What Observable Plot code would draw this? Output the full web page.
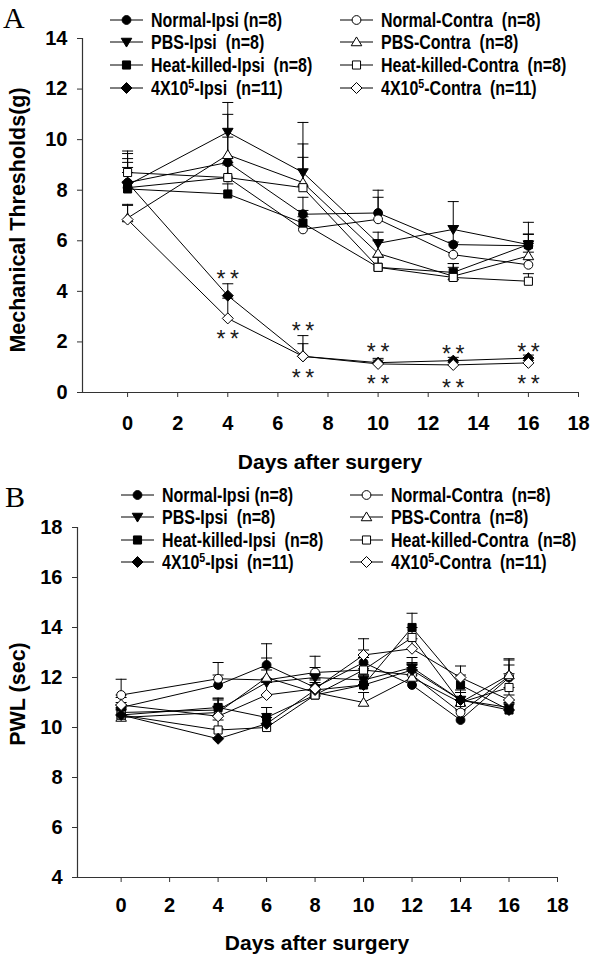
<!DOCTYPE html>
<html><head><meta charset="utf-8">
<script src="https://cdn.jsdelivr.net/npm/d3@7"></script>
<script src="https://cdn.jsdelivr.net/npm/@observablehq/plot@0.6"></script>
<style>
body{margin:0;background:#fff;}
#wrap{position:relative;width:600px;height:965px;overflow:hidden;font-family:"Liberation Sans",Arial,sans-serif;color:#000;}
.panel{position:absolute;left:0;}
.letter{position:absolute;font-family:"Liberation Serif","Times New Roman",serif;font-size:30px;line-height:30px;}
.ytitle{position:absolute;font-weight:bold;font-size:21.5px;white-space:nowrap;transform:translate(-50%,-50%) rotate(-90deg);}
.xtitle{position:absolute;font-weight:bold;font-size:21px;white-space:nowrap;transform:translate(-50%,-50%);}
.leg{position:absolute;display:flex;align-items:center;font-weight:bold;font-size:19.5px;white-space:pre;line-height:18px;transform:translateY(-50%);}
.leg svg{margin-right:8px;overflow:visible;flex:none;}
.leg span{display:inline-block;transform-origin:0 50%;}
.leg sup{font-size:13px;line-height:0;vertical-align:7px;}
</style></head>
<body><div id="wrap"></div>
<script>
// ---------- shared ----------
const seriesKeys = ["Normal-Ipsi","Normal-Contra","PBS-Ipsi","PBS-Contra","Heat-killed-Ipsi","Heat-killed-Contra","4X10^5-Ipsi","4X10^5-Contra"];
const seriesLegend = ["Normal-Ipsi (n=8)","Normal-Contra  (n=8)","PBS-Ipsi  (n=8)","PBS-Contra  (n=8)","Heat-killed-Ipsi  (n=8)","Heat-killed-Contra  (n=8)","4X10^5-Ipsi  (n=11)","4X10^5-Contra  (n=11)"];
const seriesShape = ["circle","circle","triDown","triUp","square","square","diamond","diamond"];
const seriesFill = ["black","white","black","white","black","white","black","white"];
const xTicks = [0,2,4,6,8,10,12,14,16,18];

// ---------- panel A : mechanical thresholds ----------
const daysA = [0,4,7,10,13,16];
const A_normalIpsi   = [8.3, 9.1, 7.05, 7.1, 5.85, 5.8];
const A_normalContra = [8.1, 8.5, 6.45, 6.85, 5.45, 5.05];
const A_pbsIpsi      = [8.2, 10.3, 8.7, 5.9, 6.45, 5.85];
const A_pbsContra    = [6.9, 9.4, 8.3, 5.5, 4.6, 5.4];
const A_heatIpsi     = [8.05, 7.85, 6.7, 4.95, 4.75, 5.85];
const A_heatContra   = [8.7, 8.5, 8.1, 4.95, 4.55, 4.4];
const A_cellIpsi     = [8.3, 3.83, 1.43, 1.18, 1.26, 1.36];
const A_cellContra   = [6.84, 2.93, 1.43, 1.13, 1.09, 1.17];
const A_errNormalIpsi   = [0.8, 1.0, 0.67, 0.9, 0.75, 0.93];
const A_errNormalContra = [0.8, 0.6, 0.5, 0.87, 0.5, 0.5];
const A_errPbsIpsi      = [1.35, 1.17, 1.98, 0.44, 1.1, 0.42];
const A_errPbsContra    = [0.5, 1.6, 1.53, 0.5, 0.5, 0.5];
const A_errHeatIpsi     = [1.2, 0.4, 0.5, 0.4, 0.35, 0.4];
const A_errHeatContra   = [0.75, 0.5, 1.2, 0.4, 0.4, 0.3];
const A_errCellIpsi     = [0.4, 0.47, 0.82, 0.17, 0.13, 0.12];
const A_errCellContra   = [0.6, 0.8, 0.5, 0.15, 0.1, 0.1];
const A_yTicks = [0,2,4,6,8,10,12,14];
const A_starDays = [4,7,10,13,16];
const A_starAbove = [4.7, 2.65, 1.82, 1.74, 1.82];
const A_starBelow = [2.33, 0.79, 0.55, 0.4, 0.55];

// ---------- panel B : PWL ----------
const daysB = [0,4,6,8,10,12,14,16];
const B_normalIpsi   = [10.8, 11.7, 12.5, 11.6, 12.6, 11.7, 10.3, 12.0];
const B_normalContra = [11.3, 11.95, 11.9, 12.2, 12.3, 12.1, 10.6, 12.05];
const B_pbsIpsi      = [10.6, 10.7, 11.8, 12.0, 11.9, 12.4, 11.1, 10.8];
const B_pbsContra    = [10.4, 10.6, 12.0, 11.4, 11.0, 12.0, 11.0, 12.1];
const B_heatIpsi     = [10.5, 10.8, 10.4, 11.3, 11.7, 14.0, 11.7, 10.7];
const B_heatContra   = [10.5, 9.9, 10.0, 11.3, 12.3, 13.6, 11.0, 11.6];
const B_cellIpsi     = [10.5, 9.55, 10.15, 11.5, 11.7, 12.3, 11.1, 10.7];
const B_cellContra   = [10.9, 10.45, 11.3, 11.55, 12.9, 13.15, 12.0, 11.1];
const B_errNormalIpsi   = [0.4, 0.4, 0.85, 0.5, 0.5, 0.4, 0.4, 0.5];
const B_errNormalContra = [0.63, 0.65, 0.5, 0.65, 0.6, 0.4, 0.5, 0.7];
const B_errPbsIpsi      = [0.4, 0.45, 0.5, 0.4, 0.45, 0.4, 0.4, 0.5];
const B_errPbsContra    = [0.3, 0.5, 0.78, 0.4, 0.4, 0.4, 0.4, 0.6];
const B_errHeatIpsi     = [0.4, 0.38, 0.4, 0.4, 0.4, 0.57, 0.4, 0.4];
const B_errHeatContra   = [0.4, 0.4, 0.4, 0.4, 0.5, 0.4, 0.4, 0.55];
const B_errCellIpsi     = [0.3, 0.4, 0.4, 0.4, 0.4, 0.3, 0.3, 0.3];
const B_errCellContra   = [0.4, 0.4, 0.5, 0.4, 0.65, 0.4, 0.46, 0.5];
const B_yTicks = [4,6,8,10,12,14,16,18];

// ---------- symbols ----------
const shapes = {
  circle:  {draw(c,s){const k=Math.sqrt(s/Math.PI); c.moveTo(k,0); c.arc(0,0,k,0,2*Math.PI); c.closePath();}},
  square:  {draw(c,s){const k=Math.sqrt(s/Math.PI)*0.92; c.moveTo(-k,-k); c.lineTo(k,-k); c.lineTo(k,k); c.lineTo(-k,k); c.closePath();}},
  triUp:   {draw(c,s){const k=Math.sqrt(s/Math.PI); c.moveTo(0,-1.15*k); c.lineTo(1.2*k,0.85*k); c.lineTo(-1.2*k,0.85*k); c.closePath();}},
  triDown: {draw(c,s){const k=Math.sqrt(s/Math.PI); c.moveTo(0,1.15*k); c.lineTo(1.2*k,-0.85*k); c.lineTo(-1.2*k,-0.85*k); c.closePath();}},
  diamond: {draw(c,s){const k=Math.sqrt(s/Math.PI)*1.25; c.moveTo(0,-k); c.lineTo(k,0); c.lineTo(0,k); c.lineTo(-k,0); c.closePath();}}
};
const capSym = {draw(c,s){const k=Math.sqrt(s/Math.PI); c.moveTo(-k,0); c.lineTo(k,0);}};

function rows(days, vals, errs){
  return vals.flatMap((v, si) => days.map((d, i) => ({s: si, day: d, v: v[i], e: errs[si][i]})));
}

function panel(cfg){
  const data = rows(cfg.days, cfg.vals, cfg.errs);
  const marks = [];
  marks.push(Plot.ruleX([cfg.xDomain[0]], {stroke:"#333", strokeWidth:1.2}));
  marks.push(Plot.ruleY([cfg.yDomain[0]], {stroke:"#333", strokeWidth:1.2}));
  marks.push(Plot.axisX({ticks: xTicks, tickSize: 5, tickPadding: cfg.xPad, label: null, fontSize: 20, fontWeight: "bold", stroke:"#333"}));
  marks.push(Plot.axisY({ticks: cfg.yTicks, tickSize: 5, tickPadding: 10, label: null, fontSize: 20, fontWeight: "bold", stroke:"#333"}));
  for (let si = 0; si < cfg.vals.length; si++) {
    marks.push(Plot.line(data.filter(d => d.s === si), {x:"day", y:"v", stroke:"black", strokeWidth:1}));
  }
  // SEM bars drawn upward only, as in the original figure
  marks.push(Plot.ruleX(data, {x:"day", y1:"v", y2: d => d.v + d.e, stroke:"black", strokeWidth:1}));
  marks.push(Plot.dot(data, {x:"day", y: d => d.v + d.e, symbol: capSym, r: 5.5, stroke:"black", fill:"none", strokeWidth:1}));
  for (let si = 0; si < cfg.vals.length; si++) {
    marks.push(Plot.dot(data.filter(d => d.s === si), {x:"day", y:"v", symbol: shapes[seriesShape[si]], r: 4.4, fill: seriesFill[si], stroke:"black", strokeWidth:1}));
  }
  if (cfg.stars) {
    const st = cfg.stars.days.flatMap((d,i) => [{day:d, v:cfg.stars.above[i]}, {day:d, v:cfg.stars.below[i]}]);
    marks.push(Plot.text(st, {x:"day", y:"v", text: () => "*\u2009*", fontSize: 23, fontWeight: "normal", dy: 6, fill:"#1a1a1a"}));
  }
  return Plot.plot({
    width: 600, height: cfg.height,
    marginLeft: cfg.ml, marginRight: cfg.mr, marginTop: cfg.mt, marginBottom: cfg.mb,
    x: {domain: cfg.xDomain},
    y: {domain: cfg.yDomain},
    style: {fontFamily: "'Liberation Sans', Arial, sans-serif", fontSize: "20px", fontWeight: "bold", color: "#000", background: "white", overflow: "visible"},
    marks
  });
}

const wrap = document.getElementById("wrap");
function add(el, top){ el.classList.add("panel"); el.style.top = top + "px"; wrap.appendChild(el); }

const pA = panel({days: daysA,
  vals: [A_normalIpsi, A_normalContra, A_pbsIpsi, A_pbsContra, A_heatIpsi, A_heatContra, A_cellIpsi, A_cellContra],
  errs: [A_errNormalIpsi, A_errNormalContra, A_errPbsIpsi, A_errPbsContra, A_errHeatIpsi, A_errHeatContra, A_errCellIpsi, A_errCellContra],
  xDomain: [-1.8, 18], yDomain: [0, 14], yTicks: A_yTicks, xPad: 18,
  height: 480, ml: 82, mr: 22, mt: 38, mb: 88,
  stars: {days: A_starDays, above: A_starAbove, below: A_starBelow}});
add(pA, 0);

const pB = panel({days: daysB,
  vals: [B_normalIpsi, B_normalContra, B_pbsIpsi, B_pbsContra, B_heatIpsi, B_heatContra, B_cellIpsi, B_cellContra],
  errs: [B_errNormalIpsi, B_errNormalContra, B_errPbsIpsi, B_errPbsContra, B_errHeatIpsi, B_errHeatContra, B_errCellIpsi, B_errCellContra],
  xDomain: [-1.8, 18], yDomain: [4, 18], yTicks: B_yTicks, xPad: 15,
  height: 485, ml: 77, mr: 43, mt: 47, mb: 88});
add(pB, 480);

// ---------- text overlays ----------
function div(cls, html, x, y){ const d = document.createElement("div"); d.className = cls; d.innerHTML = html; d.style.left = x + "px"; d.style.top = y + "px"; wrap.appendChild(d); return d; }
div("letter", "A", 3, 3);
div("letter", "B", 5, 482);
div("ytitle", "Mechanical Thresholds(g)", 18, 220);
div("ytitle", "PWL (sec)", 18, 694);
div("xtitle", "Days after surgery", 330, 462);
div("xtitle", "Days after surgery", 317, 943);

// narrow bold face for the legend (condensed if a narrow family exists, otherwise scaled)
const cv = document.createElement("canvas").getContext("2d");
cv.font = "bold 20px 'Liberation Sans Narrow', monospace"; const wN = cv.measureText("Heat-killed-Contra").width;
cv.font = "bold 20px monospace"; const wM = cv.measureText("Heat-killed-Contra").width;
const hasNarrow = Math.abs(wN - wM) > 1;

function legendSymbol(si){
  const p = d3.path(); shapes[seriesShape[si]].draw(p, Math.PI * 4.4 * 4.4);
  return `<svg width="33" height="12" viewBox="-16.5 -6 33 12"><line x1="-16.5" x2="16.5" y1="0" y2="0" stroke="black" stroke-width="1"/><path d="${p}" fill="${seriesFill[si]}" stroke="black" stroke-width="1"/></svg>`;
}
function legendLabel(si){ return seriesLegend[si].replace("^5", "<sup>5</sup>"); }
function legend(cols, rowsY){
  for (let si = 0; si < seriesKeys.length; si++) {
    const col = si % 2, row = Math.floor(si / 2);
    const d = div("leg", legendSymbol(si) + "<span>" + legendLabel(si) + "</span>", cols[col], rowsY[row]);
    const sp = d.querySelector("span");
    if (hasNarrow) sp.style.fontFamily = "'Liberation Sans Narrow', 'Liberation Sans', Arial, sans-serif";
    else sp.style.transform = "scaleX(0.82)";
  }
}
legend([110, 340], [20, 42, 65, 88]);
legend([121, 350], [495, 517, 540, 562]);
</script></body></html>
